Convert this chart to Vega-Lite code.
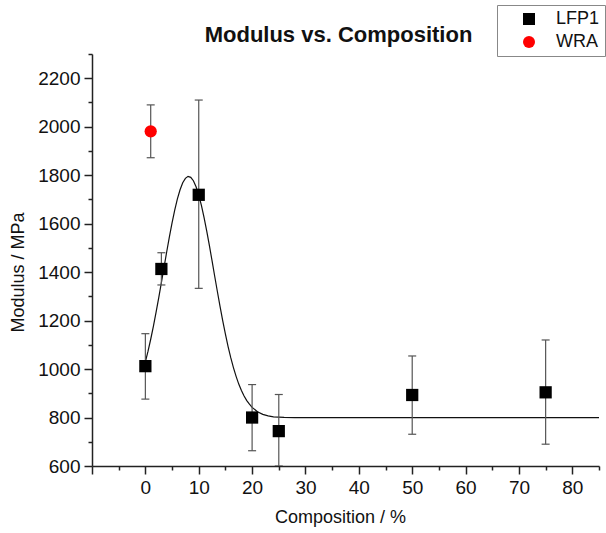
{
  "$schema": "https://vega.github.io/schema/vega-lite/v6.json",
  "width": 507,
  "height": 412,
  "autosize": {"type": "none"},
  "padding": {"left": 92, "top": 54, "right": 7, "bottom": 67},
  "background": "white",
  "config": {
    "view": {"stroke": null},
    "font": "Liberation Sans",
    "axis": {
      "grid": false,
      "domainColor": "#222",
      "domainWidth": 1.5,
      "tickColor": "#222",
      "tickWidth": 1.5,
      "labelFont": "Liberation Sans",
      "labelFontSize": 19,
      "labelColor": "#111",
      "titleFont": "Liberation Sans",
      "titleFontSize": 18,
      "titleFontWeight": "normal",
      "titleColor": "#111",
      "labelOverlap": false,
      "labelFlush": false
    },
    "legend": {
      "orient": "none",
      "legendX": 405,
      "legendY": -49,
      "title": null,
      "strokeColor": "#888",
      "fillColor": "white",
      "padding": 5,
      "labelFont": "Liberation Sans",
      "labelFontSize": 18,
      "labelColor": "#111",
      "labelOffset": 18,
      "symbolOffset": 18,
      "symbolSize": 144,
      "rowPadding": 5,
      "symbolStrokeWidth": 0
    }
  },
  "title": {
    "text": "Modulus vs. Composition",
    "font": "Liberation Sans",
    "fontSize": 22,
    "fontWeight": "bold",
    "color": "#111",
    "anchor": "middle",
    "frame": "group",
    "baseline": "alphabetic",
    "offset": 10,
    "dx": -7,
    "dy": 69
  },
  "datasets": {
    "points": [
      {"series": "LFP1", "comp": 0, "mod": 1012, "lo": 876, "hi": 1146},
      {"series": "LFP1", "comp": 3, "mod": 1413, "lo": 1347, "hi": 1480},
      {"series": "LFP1", "comp": 10, "mod": 1719, "lo": 1333, "hi": 2110},
      {"series": "LFP1", "comp": 20, "mod": 800, "lo": 663, "hi": 936},
      {"series": "LFP1", "comp": 25, "mod": 744, "lo": 600, "hi": 895},
      {"series": "LFP1", "comp": 50, "mod": 893, "lo": 731, "hi": 1054},
      {"series": "LFP1", "comp": 75, "mod": 904, "lo": 690, "hi": 1120},
      {"series": "WRA", "comp": 1, "mod": 1981, "lo": 1872, "hi": 2090}
    ],
    "fit": [
      {"comp": 0, "mod": 1030}, {"comp": 0.5, "mod": 1074}, {"comp": 1, "mod": 1123},
      {"comp": 1.5, "mod": 1176}, {"comp": 2, "mod": 1234}, {"comp": 2.5, "mod": 1294},
      {"comp": 3, "mod": 1357}, {"comp": 3.5, "mod": 1420}, {"comp": 4, "mod": 1484},
      {"comp": 4.5, "mod": 1545}, {"comp": 5, "mod": 1603}, {"comp": 5.5, "mod": 1656},
      {"comp": 6, "mod": 1702}, {"comp": 6.5, "mod": 1740}, {"comp": 7, "mod": 1769},
      {"comp": 7.5, "mod": 1787}, {"comp": 8, "mod": 1795}, {"comp": 8.5, "mod": 1791},
      {"comp": 9, "mod": 1777}, {"comp": 9.5, "mod": 1752}, {"comp": 10, "mod": 1718},
      {"comp": 10.5, "mod": 1675}, {"comp": 11, "mod": 1625}, {"comp": 11.5, "mod": 1569},
      {"comp": 12, "mod": 1509}, {"comp": 12.5, "mod": 1446}, {"comp": 13, "mod": 1382},
      {"comp": 13.5, "mod": 1319}, {"comp": 14, "mod": 1258}, {"comp": 14.5, "mod": 1199},
      {"comp": 15, "mod": 1144}, {"comp": 15.5, "mod": 1093}, {"comp": 16, "mod": 1047},
      {"comp": 16.5, "mod": 1006}, {"comp": 17, "mod": 970}, {"comp": 17.5, "mod": 938},
      {"comp": 18, "mod": 912}, {"comp": 18.5, "mod": 889}, {"comp": 19, "mod": 870},
      {"comp": 19.5, "mod": 855}, {"comp": 20, "mod": 842}, {"comp": 21, "mod": 824},
      {"comp": 22, "mod": 813}, {"comp": 23, "mod": 807}, {"comp": 24, "mod": 803},
      {"comp": 25, "mod": 802}, {"comp": 26, "mod": 801}, {"comp": 28, "mod": 800},
      {"comp": 30, "mod": 800}, {"comp": 40, "mod": 800}, {"comp": 50, "mod": 800},
      {"comp": 60, "mod": 800}, {"comp": 70, "mod": 800}, {"comp": 80, "mod": 800},
      {"comp": 85, "mod": 800}
    ]
  },
  "encoding": {
    "x": {
      "field": "comp",
      "type": "quantitative",
      "scale": {"domain": [-10, 85], "nice": false, "zero": false},
      "axis": {
        "title": "Composition / %",
        "values": [-10, -5, 0, 5, 10, 15, 20, 25, 30, 35, 40, 45, 50, 55, 60, 65, 70, 75, 80, 85],
        "format": "d",
        "labelExpr": "datum.value >= 0 && datum.value % 10 === 0 ? datum.label : ''",
        "tickSize": {"condition": {"test": "datum.value % 10 !== 0", "value": 4}, "value": 8},
        "labelPadding": 4,
        "titlePadding": 11,
        "titleX": 248
      }
    },
    "y": {
      "field": "mod",
      "type": "quantitative",
      "scale": {"domain": [600, 2300], "nice": false, "zero": false},
      "axis": {
        "title": "Modulus / MPa",
        "values": [600, 700, 800, 900, 1000, 1100, 1200, 1300, 1400, 1500, 1600, 1700, 1800, 1900, 2000, 2100, 2200, 2300],
        "format": "d",
        "labelExpr": "datum.value % 200 === 0 && datum.value < 2300 ? datum.label : ''",
        "tickSize": {"condition": {"test": "datum.value % 200 !== 0 || datum.value === 2300", "value": 4}, "value": 8},
        "labelPadding": 4,
        "titlePadding": 10,
        "titleY": 218
      }
    }
  },
  "layer": [
    {
      "data": {"name": "fit"},
      "mark": {"type": "line", "color": "#111", "strokeWidth": 1.2, "clip": true}
    },
    {
      "data": {"name": "points"},
      "mark": {"type": "rule", "color": "#555", "strokeWidth": 1.2, "clip": true},
      "encoding": {
        "y": {"field": "lo", "type": "quantitative"},
        "y2": {"field": "hi"}
      }
    },
    {
      "data": {"name": "points"},
      "mark": {"type": "tick", "orient": "horizontal", "size": 8, "thickness": 1.2, "color": "#555", "opacity": 1},
      "encoding": {"y": {"field": "hi", "type": "quantitative"}}
    },
    {
      "data": {"name": "points"},
      "mark": {"type": "tick", "orient": "horizontal", "size": 8, "thickness": 1.2, "color": "#555", "opacity": 1, "clip": true},
      "encoding": {"y": {"field": "lo", "type": "quantitative"}}
    },
    {
      "data": {"name": "points"},
      "mark": {"type": "point", "filled": true, "opacity": 1, "size": 150, "strokeWidth": 0},
      "encoding": {
        "shape": {
          "field": "series",
          "type": "nominal",
          "scale": {"domain": ["LFP1", "WRA"], "range": ["square", "circle"]}
        },
        "color": {
          "field": "series",
          "type": "nominal",
          "scale": {"domain": ["LFP1", "WRA"], "range": ["#000000", "#ff0000"]}
        }
      }
    }
  ]
}
